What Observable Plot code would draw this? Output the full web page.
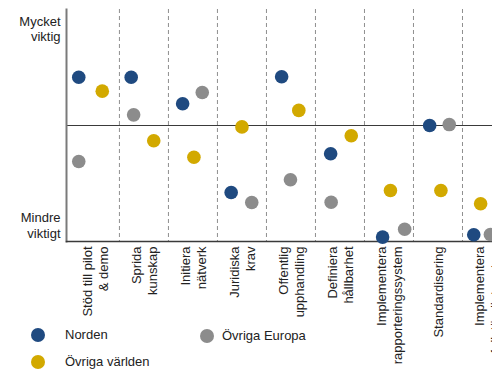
<!DOCTYPE html>
<html>
<head>
<meta charset="utf-8">
<script src="https://cdn.jsdelivr.net/npm/d3@7"></script>
<script src="https://cdn.jsdelivr.net/npm/@observablehq/plot@0.6"></script>
<style>
  html, body { margin: 0; padding: 0; background: #fff; overflow: hidden; }
  #wrap { position: relative; width: 492px; height: 370px; overflow: hidden;
          font-family: "Liberation Sans", Arial, sans-serif; color: #222; }
  #chart svg { display: block; max-width: none !important; width: 530px !important; height: 370px !important; }
  .item { position: absolute; display: flex; align-items: center; font-size: 13px; line-height: 16px; }
  .swatch { width: 14px; height: 14px; border-radius: 50%; flex: none; }
  .item.norden { left: 31px; top: 327px; }
  .item.norden .swatch { margin-right: 20px; }
  .item.europa { left: 200px; top: 328px; }
  .item.europa .swatch { margin-right: 8px; }
  .item.varlden { left: 31px; top: 354px; }
  .item.varlden .swatch { margin-right: 20px; }
</style>
</head>
<body>
<div id="wrap"><div id="chart"></div></div>
<script>
// Åtgärder (kategorier längs x-axeln)
const categories = [
  "Stöd till pilot\n& demo",
  "Sprida\nkunskap",
  "Initiera\nnätverk",
  "Juridiska\nkrav",
  "Offentlig\nupphandling",
  "Definiera\nhållbarhet",
  "Implementera\nrapporteringssystem",
  "Standardisering",
  "Implementera\nfullständigt system"
];

// Bedömd vikt, 0 = mindre viktigt, 100 = mycket viktigt
const norden        = [70.8, 70.8, 59.4, 21.1, 71.0, 37.8,  1.9, 50.0,  2.9];
const ovrigaEuropa  = [34.5, 54.6, 64.2, 16.8, 26.6, 16.9,  5.3, 50.4,  3.0];
const ovrigaVarlden = [64.8, 43.4, 36.3, 49.4, 56.5, 45.6, 22.0, 22.0, 16.3];

// Placering inom respektive kategori (andel av kategorins bredd)
const nordenJitter  = [0.17, 0.24, 0.29, 0.28, 0.31, 0.31, 0.37, 0.33, 0.23];
const europaJitter  = [0.17, 0.29, 0.69, 0.70, 0.49, 0.32, 0.82, 0.73, 0.57];
const varldenJitter = [0.65, 0.70, 0.52, 0.50, 0.66, 0.73, 0.53, 0.56, 0.37];

const yLabelTop = "Mycket\nviktig";
const yLabelBottom = "Mindre\nviktigt";

const series = [
  {key: "norden",  name: "Norden",          values: norden,        jitter: nordenJitter,  color: "#1f4a80"},
  {key: "europa",  name: "Övriga Europa",   values: ovrigaEuropa,  jitter: europaJitter,  color: "#8c8c8c"},
  {key: "varlden", name: "Övriga världen",  values: ovrigaVarlden, jitter: varldenJitter, color: "#d2a900"}
];

const rows = categories.flatMap((c, i) =>
  series.map(s => ({series: s.name, x: i + s.jitter[i], y: s.values[i]}))
);

const font = "'Liberation Sans', Arial, sans-serif";

const chart = Plot.plot({
  width: 530,
  height: 370,
  marginLeft: 66,
  marginRight: 19,
  marginTop: 9,
  marginBottom: 129,
  style: {fontFamily: font, fontSize: "13px", color: "#222", background: "transparent"},
  x: {domain: [-0.08, categories.length], axis: null},
  y: {domain: [0, 100], axis: null},
  color: {domain: series.map(s => s.name), range: series.map(s => s.color)},
  marks: [
    // streckade avgränsningar mellan kategorierna
    Plot.ruleX(d3.range(1, categories.length), {stroke: "#8f8f8f", strokeWidth: 1, strokeDasharray: "4,3"}),
    // mittlinje
    Plot.ruleY([50], {stroke: "#3a3a3a", strokeWidth: 1.2}),
    // axellinjer
    Plot.frame({anchor: "left", stroke: "#7a7a7a", strokeWidth: 2}),
    Plot.frame({anchor: "bottom", stroke: "#3a3a3a", strokeWidth: 1.5}),
    // punkter
    Plot.dot(rows, {x: "x", y: "y", r: 6.8, fill: "series", stroke: "none"}),
    // kategorietiketter
    Plot.text(categories, {
      x: (d, i) => i + 0.5,
      frameAnchor: "bottom",
      rotate: -90,
      textAnchor: "end",
      lineAnchor: "middle",
      lineHeight: 1.25,
      dy: 5,
      fontSize: 13,
      fill: "#222"
    }),
    // y-axelns etiketter
    Plot.text([yLabelTop], {
      frameAnchor: "top-left", textAnchor: "end", lineAnchor: "top",
      lineHeight: 1.2, dx: -6, dy: 5, fontSize: 13, fill: "#222"
    }),
    Plot.text([yLabelBottom], {
      frameAnchor: "bottom-left", textAnchor: "end", lineAnchor: "bottom",
      lineHeight: 1.2, dx: -6, dy: -4, fontSize: 13, fill: "#222"
    })
  ]
});

document.getElementById("chart").appendChild(chart);

// förklaring
const wrap = document.getElementById("wrap");
for (const s of series) {
  const item = document.createElement("div");
  item.className = "item " + s.key;
  const sw = document.createElement("span");
  sw.className = "swatch";
  sw.style.background = s.color;
  const label = document.createElement("span");
  label.textContent = s.name;
  item.appendChild(sw);
  item.appendChild(label);
  wrap.appendChild(item);
}
</script>
</body>
</html>
